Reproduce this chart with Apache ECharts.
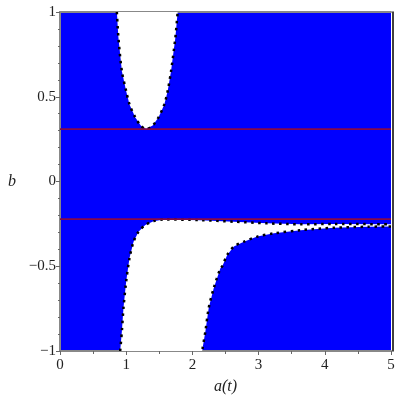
<!DOCTYPE html>
<html><head><meta charset="utf-8">
<script src="https://cdn.jsdelivr.net/npm/echarts@6/dist/echarts.min.js"></script>
<style>html,body{margin:0;padding:0;background:#fff}#c{width:400px;height:400px}</style>
</head><body><div id="c"></div>
<script>
// white region (top): left edge top->bottom, right edge bottom->top
var topLeftEdge = [[0.859,1.0],[0.883,0.846],[0.935,0.650],[1.0,0.533],[1.05,0.455],[1.136,0.379],[1.22,0.33],[1.30,0.309]];
var topRightEdge = [[1.30,0.309],[1.40,0.33],[1.489,0.379],[1.576,0.455],[1.626,0.533],[1.677,0.650],[1.742,0.846],[1.777,1.0]];
// white region (bottom)
var lowLeftEdge = [[0.909,-1.0],[0.935,-0.882],[0.959,-0.745],[1.0,-0.589],[1.05,-0.452],[1.111,-0.355],[1.186,-0.296],[1.288,-0.257],[1.414,-0.234],[1.565,-0.224]];
var lowUpperEdge = [[1.565,-0.224],[2.121,-0.228],[2.621,-0.237],[3.132,-0.247],[3.636,-0.252],[4.136,-0.251],[5.0,-0.252]];
var lowRightEdge = [[5.0,-0.265],[4.647,-0.267],[4.141,-0.273],[3.636,-0.287],[3.232,-0.306],[2.98,-0.325],[2.777,-0.355],[2.626,-0.384],[2.526,-0.433],[2.45,-0.501],[2.424,-0.511],[2.323,-0.628],[2.247,-0.745],[2.197,-0.882],[2.147,-1.0]];
var redLevels = [0.309, -0.222];
var xTicks = [0,1,2,3,4,5];
var yTicks = [-1,-0.5,0,0.5,1];

var topPoly = topLeftEdge.concat(topRightEdge);
var lowPoly = lowLeftEdge.concat(lowUpperEdge).concat(lowRightEdge);

function polySeries(pts){
  return {type:'custom', coordinateSystem:'cartesian2d', data: pts, silent:true, z:2,
    renderItem:function(params, api){
      if(params.dataIndex!==0) return null;
      var p = pts.map(function(d){return api.coord(d);});
      return {type:'polygon', shape:{points:p}, style:{fill:'#ffffff', stroke:null}};
    }};
}
function dotted(pts){
  return {type:'line', data: pts, symbol:'none', smooth:0.3, silent:true, z:3,
    lineStyle:{color:'#000', width:2.5, type:[2.5,4.5]}};
}
var serif = "'Liberation Serif', 'Times New Roman', serif";
var fmt = function(v){ return String(v).replace('-', '\u2212'); };
var redSeries = redLevels.map(function(l){
  return {type:'line', data:[[0,l],[5,l]], symbol:'none', silent:true, z:4,
    lineStyle:{color:'#860a48', width:1.6}};
});
var chart = echarts.init(document.getElementById('c'));
chart.setOption({
  animation:false,
  grid:{left:60, right:9, top:12, bottom:46, show:true, backgroundColor:'#0000ff', borderWidth:0},
  xAxis:[{type:'value', min:0, max:5, interval:1, position:'bottom',
    axisLine:{show:true, onZero:false, lineStyle:{color:'#888', width:2}},
    axisTick:{show:true, length:4, lineStyle:{color:'#666'}},
    minorTick:{show:true, splitNumber:2, length:3, lineStyle:{color:'#666'}},
    splitLine:{show:false},
    axisLabel:{fontFamily:serif, fontSize:15, color:'#222', margin:7, formatter:fmt},
    name:'a(t)', nameLocation:'middle', nameGap:28,
    nameTextStyle:{fontFamily:serif, fontStyle:'italic', fontSize:16, color:'#222'}},
    {type:'value', min:0, max:5, position:'top',
    axisLine:{show:true, onZero:false, lineStyle:{color:'#888', width:2}},
    axisTick:{show:false}, axisLabel:{show:false}, splitLine:{show:false}}],
  yAxis:[{type:'value', min:-1, max:1, interval:0.5, position:'left',
    axisLine:{show:true, onZero:false, lineStyle:{color:'#888', width:2}},
    axisTick:{show:true, length:4, lineStyle:{color:'#666'}},
    minorTick:{show:true, splitNumber:5, length:2, lineStyle:{color:'#666'}},
    splitLine:{show:false},
    axisLabel:{fontFamily:serif, fontSize:15, color:'#222', margin:4, formatter:fmt},
    name:'b', nameLocation:'middle', nameGap:44, nameRotate:0,
    nameTextStyle:{fontFamily:serif, fontStyle:'italic', fontSize:16, color:'#222'}},
    {type:'value', min:-1, max:1, position:'right', offset:2,
    axisLine:{show:true, onZero:false, lineStyle:{color:'#000', width:1.5}},
    axisTick:{show:false}, axisLabel:{show:false}, splitLine:{show:false}}],
  series:[polySeries(topPoly), polySeries(lowPoly),
    dotted(topPoly), dotted(lowLeftEdge.concat(lowUpperEdge)), dotted(lowRightEdge)].concat(redSeries)
});
</script></body></html>
